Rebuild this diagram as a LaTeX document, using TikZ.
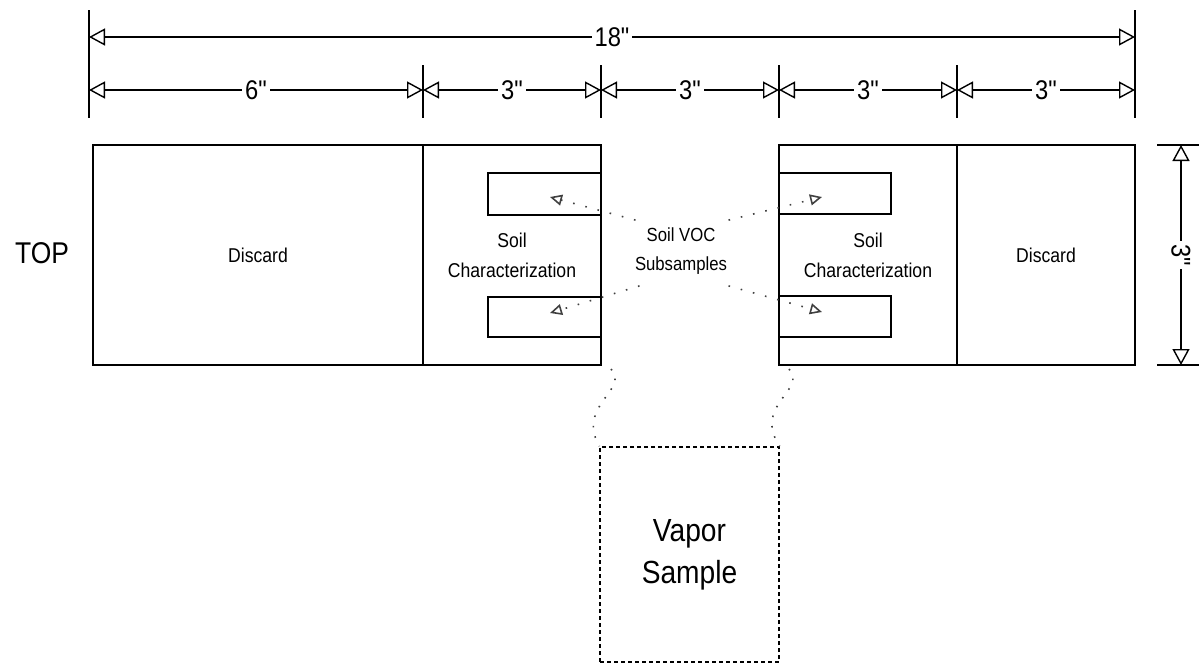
\documentclass[tikz,border=0pt]{standalone}
\usepackage{fontspec}
\setmainfont{Liberation Sans}[FakeStretch=0.88, Ligatures=TeXOff]
\usetikzlibrary{arrows.meta}
\begin{document}
\begin{tikzpicture}[
  x=1pt, y=-1pt,
  box/.style={draw, line width=1.6pt, inner sep=0pt, align=center, font=\fontsize{20}{30}\selectfont},
  sub/.style={draw, line width=1.6pt, inner sep=0pt},
  dim/.style={line width=1.4pt, {Triangle[open,length=16pt,width=17pt]}-{Triangle[open,length=16pt,width=17pt]}},
  ext/.style={line width=1.4pt},
  dimlbl/.style={fill=white, inner sep=3pt, font=\fontsize{27}{30}\selectfont},
  lead/.style={line width=1.6pt, black!75, dash pattern=on 1.6pt off 11pt, -{Triangle[open,length=12pt,width=11pt]}},
  link/.style={line width=1.6pt, black!75, dash pattern=on 1.6pt off 9pt}
]
  \useasboundingbox (0,0) rectangle (1199,664);

  % left core half
  \node[box, minimum width=330, minimum height=220] (discL) at (258,255) {Discard};
  \node[box, minimum width=178, minimum height=220] (charL) at (512,255) {Soil\\Characterization};
  \node[sub, minimum width=113, minimum height=42] (subLT) at (544.5,194) {};
  \node[sub, minimum width=113, minimum height=40] (subLB) at (544.5,317) {};

  % right core half
  \node[box, minimum width=178, minimum height=220] (charR) at (868,255) {Soil\\Characterization};
  \node[box, minimum width=178, minimum height=220] (discR) at (1046,255) {Discard};
  \node[sub, minimum width=112, minimum height=41] (subRT) at (835,193.5) {};
  \node[sub, minimum width=112, minimum height=41] (subRB) at (835,316.5) {};

  \node[font=\fontsize{30}{32}\selectfont] (top) at (42,253) {TOP};
  \node[align=center, font=\fontsize{19}{29}\selectfont] (voc) at (681,251) {Soil VOC\\Subsamples};

  % vapor sample
  \node[draw, line width=1.4pt, dash pattern=on 4pt off 3pt, inner sep=0pt,
        minimum width=179, minimum height=215, align=center,
        font=\fontsize{32}{42}\selectfont] (vap) at (689.5,554.5) {Vapor\\Sample};

  % subsample leaders
  \coordinate (pLT) at (550,197);
  \coordinate (pLB) at (550,313);
  \coordinate (pRT) at (822,197);
  \coordinate (pRB) at (822,312);
  \draw[lead] (voc.north west) ++(4,-4) -- (pLT);
  \draw[lead] (voc.south west) ++(8,8) -- (pLB);
  \draw[lead] (voc.north east) ++(-2,-4) -- (pRT);
  \draw[lead] (voc.south east) ++(-2,8) -- (pRB);

  % vapor links
  \coordinate (vL) at (611,369);
  \coordinate (vR) at (789,369);
  \draw[link] (vL) .. controls (630,390) and (576,405) .. (vap.north west);
  \draw[link] (vR) .. controls (808,390) and (752,405) .. (vap.north east);

  % dimensions
  \foreach \n/\x in {a/89,b/423,c/601,d/779,e/957,f/1135}
    \coordinate (\n) at (\x,90);
  \coordinate (a18) at (89,37);
  \coordinate (f18) at (1135,37);
  \draw[ext] (89,10) -- (89,118);
  \draw[ext] (1135,10) -- (1135,118);
  \foreach \x in {423,601,779,957}
    \draw[ext] (\x,65) -- (\x,118);
  \draw[dim] (a18) -- node[dimlbl]{18"} (f18);
  \draw[dim] (a) -- node[dimlbl]{6"} (b);
  \draw[dim] (b) -- node[dimlbl]{3"} (c);
  \draw[dim] (c) -- node[dimlbl]{3"} (d);
  \draw[dim] (d) -- node[dimlbl]{3"} (e);
  \draw[dim] (e) -- node[dimlbl]{3"} (f);

  \coordinate (vt) at (1181,145);
  \coordinate (vb) at (1181,365);
  \draw[ext] (1157,145) -- (1199,145);
  \draw[ext] (1157,365) -- (1199,365);
  \draw[dim] (vt) -- node[dimlbl, rotate=-90]{3"} (vb);
\end{tikzpicture}
\end{document}
